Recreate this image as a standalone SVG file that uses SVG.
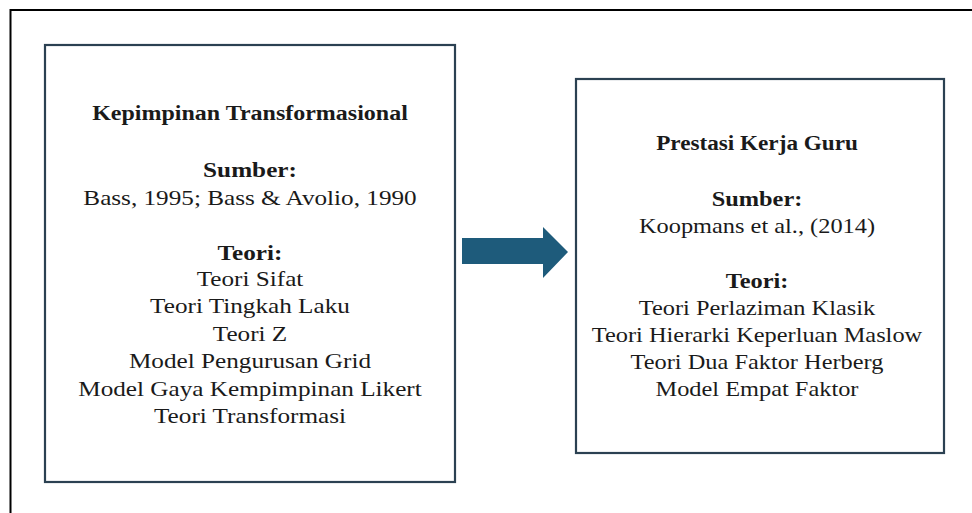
<svg xmlns="http://www.w3.org/2000/svg" width="972" height="513" viewBox="0 0 972 513">
<style>
.box{fill:#ffffff;stroke:#2b4152;stroke-width:2.2}
.t{font-family:"Liberation Serif","Times New Roman",serif;font-size:21px;fill:#1a1a1a;text-anchor:middle}
.b{font-weight:bold}
.h{font-size:20px}
.frame{fill:none;stroke:#000000;stroke-width:2}
.arrow{fill:#1e5b7b}
</style>
<rect x="0" y="0" width="972" height="513" fill="#ffffff"/>
<path class="frame" d="M10.5,513 V10 H972"/>
<g id="node-kepimpinan">
<rect class="box" x="45" y="45" width="410" height="437"/>
<g transform="translate(250,0) scale(1.2,1)">
<text class="t b h" x="0" y="120">Kepimpinan Transformasional</text>
<text class="t b" x="0" y="177">Sumber:</text>
<text class="t" x="0" y="205">Bass, 1995; Bass &amp; Avolio, 1990</text>
<text class="t b" x="0" y="260">Teori:</text>
<text class="t" x="0" y="286">Teori Sifat</text>
<text class="t" x="0" y="313.5">Teori Tingkah Laku</text>
<text class="t" x="0" y="341">Teori Z</text>
<text class="t" x="0" y="368.5">Model Pengurusan Grid</text>
<text class="t" x="0" y="396">Model Gaya Kempimpinan Likert</text>
<text class="t" x="0" y="423.5">Teori Transformasi</text>
</g>
</g>
<g id="node-prestasi">
<rect class="box" x="576" y="79" width="368" height="374"/>
<g transform="translate(757,0) scale(1.16,1)">
<text class="t b h" x="0" y="150">Prestasi Kerja Guru</text>
<text class="t b" x="0" y="206">Sumber:</text>
<text class="t" x="0" y="233">Koopmans et al., (2014)</text>
<text class="t b" x="0" y="288">Teori:</text>
<text class="t" x="0" y="315">Teori Perlaziman Klasik</text>
<text class="t" x="0" y="342">Teori Hierarki Keperluan Maslow</text>
<text class="t" x="0" y="369">Teori Dua Faktor Herberg</text>
<text class="t" x="0" y="396">Model Empat Faktor</text>
</g>
</g>
<g id="connectors">
<polygon class="arrow" points="462,238 543,238 543,227 568,252 543,278 543,264 462,264"/>
</g>
</svg>
